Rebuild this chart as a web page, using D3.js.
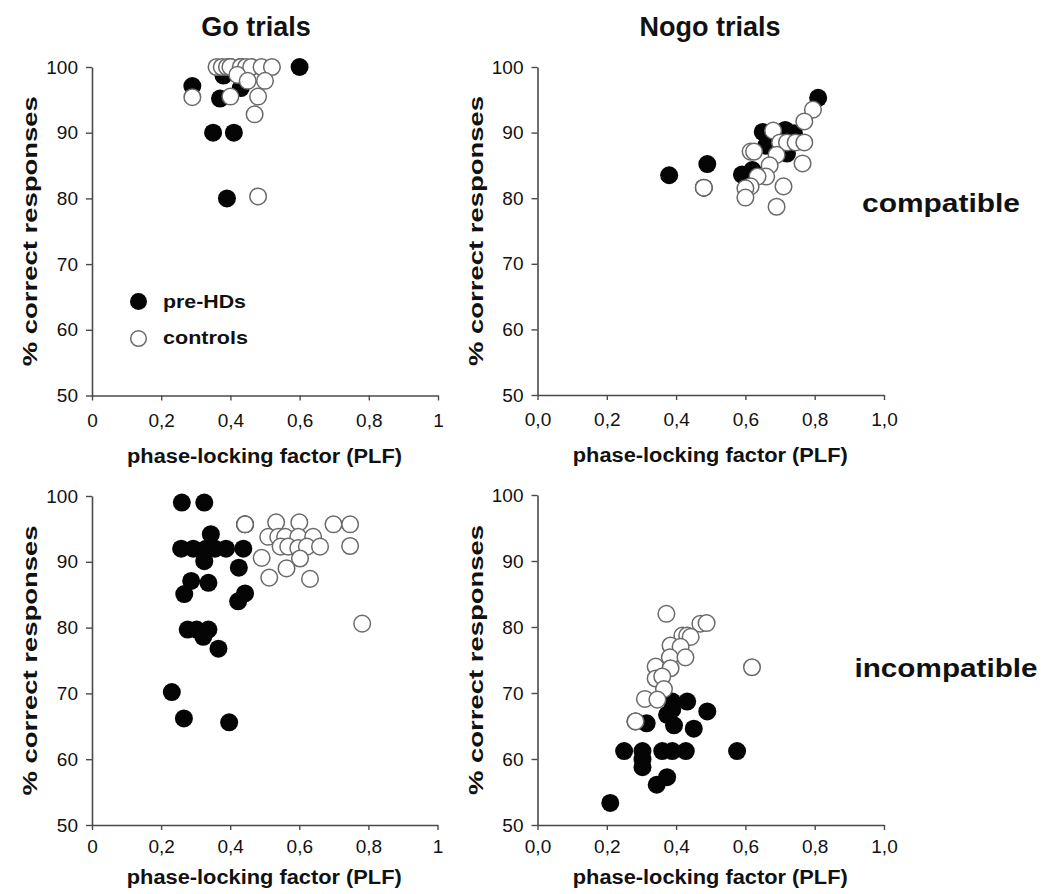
<!DOCTYPE html>
<html><head><meta charset="utf-8">
<script src="https://cdn.jsdelivr.net/npm/d3@7"></script>
<style>
html,body{margin:0;padding:0;background:#fff;}
text{font-family:"Liberation Sans",Arial,Helvetica,sans-serif;fill:#111;}
</style></head>
<body>
<svg id="chart" width="1042" height="894"></svg>
<script>
// ---------- data ----------
const xTicksA = [0, 0.2, 0.4, 0.6, 0.8, 1];
const xTickLabelsA = ["0", "0,2", "0,4", "0,6", "0,8", "1"];
const xTickLabelsB = ["0,0", "0,2", "0,4", "0,6", "0,8", "1,0"];
const yTicks = [50, 60, 70, 80, 90, 100];

// Go trials, compatible
const goCompPre = [[0.60,100],[0.29,97.1],[0.38,98.7],[0.40,100],[0.43,100],[0.37,95.2],[0.43,96.8],[0.35,90],[0.41,90],[0.39,80]];
const goCompCtrl = [[0.36,100],[0.375,100],[0.39,100],[0.40,100],[0.43,100],[0.445,100],[0.46,100],[0.49,100],[0.52,100],
  [0.42,98.8],[0.45,97.9],[0.50,97.9],[0.29,95.4],[0.40,95.5],[0.48,95.5],[0.47,92.8],[0.48,80.3]];
// Nogo trials, compatible
const nogoCompPre = [[0.81,95.3],[0.38,83.5],[0.49,85.2],[0.59,83.6],[0.62,84.3],[0.65,90.1],[0.715,90.4],[0.74,89.9],[0.72,86.8],[0.66,88],[0.48,81.6]];
const nogoCompCtrl = [[0.795,93.5],[0.77,91.7],[0.68,90.3],[0.70,88.5],[0.72,88.5],[0.745,88.5],[0.77,88.5],[0.615,87.1],[0.625,87.1],
  [0.69,86.6],[0.67,85],[0.765,85.3],[0.66,83.3],[0.635,83.3],[0.615,81.8],[0.60,81.5],[0.71,81.8],[0.60,80.1],[0.69,78.7],[0.48,81.6]];
// Go trials, incompatible
const goIncPre = [[0.26,99],[0.325,99],[0.344,94.2],[0.258,92],[0.293,92],[0.33,92],[0.356,92],[0.388,92],[0.438,92],[0.325,90.1],
  [0.425,89.1],[0.287,87.1],[0.337,86.8],[0.267,85.1],[0.443,85.2],[0.423,84],[0.277,79.7],[0.303,79.7],[0.337,79.7],[0.322,78.6],
  [0.366,76.8],[0.231,70.2],[0.266,66.2],[0.397,65.6],[0.443,95.7]];
const goIncCtrl = [[0.443,95.7],[0.533,96],[0.60,96],[0.699,95.7],[0.747,95.7],[0.51,93.8],[0.539,93.8],[0.559,93.8],[0.597,93.8],
  [0.64,93.8],[0.546,92.3],[0.568,92.3],[0.597,92.1],[0.622,92.3],[0.66,92.3],[0.747,92.4],[0.491,90.6],[0.602,90.5],[0.563,89],
  [0.513,87.6],[0.631,87.4],[0.782,80.6]];
// Nogo trials, incompatible
const nogoIncPre = [[0.389,68.7],[0.432,68.7],[0.49,67.2],[0.374,66.7],[0.389,67.5],[0.315,65.4],[0.394,65.1],[0.451,64.6],[0.25,61.2],
  [0.303,61.2],[0.36,61.2],[0.389,61.2],[0.428,61.2],[0.576,61.2],[0.303,58.75],[0.303,60],[0.374,57.25],[0.344,56.1],[0.21,53.35],[0.283,65.7]];
const nogoIncCtrl = [[0.372,82],[0.47,80.5],[0.488,80.6],[0.418,78.7],[0.432,78.7],[0.442,78.5],[0.384,77.2],[0.413,77],[0.382,75.4],
  [0.427,75.4],[0.341,74],[0.384,73.75],[0.341,72.2],[0.36,72.5],[0.365,70.6],[0.31,69.1],[0.346,69],[0.619,73.9],[0.283,65.7]];

const titles = ["Go trials", "Nogo trials"];
const rowLabels = ["compatible", "incompatible"];
const legendLabels = ["pre-HDs", "controls"];
const xTitle = "phase-locking factor (PLF)";
const yTitle = "% correct responses";

// ---------- layout ----------
const svg = d3.select("#chart");
const panels = [
  {x0:92, x1:438, yt:67, yb:395.5, pre:goCompPre, ctrl:goCompCtrl, lab:xTickLabelsA, pad:13, tOff:67},
  {x0:537.5, x1:884, yt:67, yb:395, pre:nogoCompPre, ctrl:nogoCompCtrl, lab:xTickLabelsB, pad:13, tOff:67},
  {x0:92, x1:437.5, yt:496, yb:825, pre:goIncPre, ctrl:goIncCtrl, lab:xTickLabelsA, pad:10, tOff:59},
  {x0:537.5, x1:884, yt:495, yb:825, pre:nogoIncPre, ctrl:nogoIncCtrl, lab:xTickLabelsB, pad:10, tOff:59}
];
const R = 9;

panels.forEach((p) => {
  const x = d3.scaleLinear().domain([0,1]).range([p.x0, p.x1]);
  const y = d3.scaleLinear().domain([50,100]).range([p.yb, p.yt]);
  const g = svg.append("g");

  const yAx = g.append("g").attr("transform", `translate(${p.x0},0)`)
    .call(d3.axisLeft(y).tickValues(yTicks).tickSize(6).tickSizeOuter(0).tickPadding(8).tickFormat(d3.format("d")));
  const xAx = g.append("g").attr("transform", `translate(0,${p.yb})`)
    .call(d3.axisBottom(x).tickValues(xTicksA).tickSize(5).tickSizeOuter(0).tickPadding(p.pad).tickFormat((d,i)=>p.lab[i]));
  [yAx, xAx].forEach(a => {
    a.selectAll("path.domain").attr("stroke", "#4a4a4a").attr("stroke-width", 1.6);
    a.selectAll(".tick line").attr("stroke", "#4a4a4a").attr("stroke-width", 1.4);
    a.selectAll(".tick text").style("font-size", "19px").style("font-family", '"Liberation Sans",Arial,sans-serif').attr("fill", "#111");
  });

  // x title
  g.append("text").attr("x", (p.x0+p.x1)/2 - 0.5).attr("y", p.yb + p.tOff)
    .attr("text-anchor","middle").style("font-size","19.5px").style("font-weight","bold")
    .attr("textLength", 275).attr("lengthAdjust","spacingAndGlyphs").text(xTitle);
  // y title
  const cy = (p.yt+p.yb)/2;
  g.append("text").attr("transform", `translate(${p.x0-55},${cy}) rotate(-90)`)
    .attr("text-anchor","middle").style("font-size","19.5px").style("font-weight","bold")
    .attr("textLength", 270).attr("lengthAdjust","spacingAndGlyphs").text(yTitle);

  // controls drawn after pre-HDs (on top)
  g.append("g").selectAll("circle").data(p.pre).join("circle")
    .attr("cx", d=>x(d[0])).attr("cy", d=>y(d[1])).attr("r", R).attr("fill", "#050505");
  g.append("g").selectAll("circle").data(p.ctrl).join("circle")
    .attr("cx", d=>x(d[0])).attr("cy", d=>y(d[1])).attr("r", R-0.7)
    .attr("fill", "#fff").attr("stroke", "#6a6a6a").attr("stroke-width", 1.5);
});

// column titles
svg.append("text").attr("x", 256).attr("y", 36).attr("text-anchor","middle")
  .style("font-size","27px").style("font-weight","bold").text(titles[0]);
svg.append("text").attr("x", 710).attr("y", 36).attr("text-anchor","middle")
  .style("font-size","27px").style("font-weight","bold").text(titles[1]);
// row labels
svg.append("text").attr("x", 941).attr("y", 212).attr("text-anchor","middle")
  .style("font-size","25px").style("font-weight","bold")
  .attr("textLength",158).attr("lengthAdjust","spacingAndGlyphs").text(rowLabels[0]);
svg.append("text").attr("x", 946).attr("y", 677).attr("text-anchor","middle")
  .style("font-size","25px").style("font-weight","bold")
  .attr("textLength",183).attr("lengthAdjust","spacingAndGlyphs").text(rowLabels[1]);

// legend
const leg = svg.append("g");
leg.append("circle").attr("cx",138.5).attr("cy",301.5).attr("r",8.5).attr("fill","#050505");
leg.append("circle").attr("cx",138.5).attr("cy",338.5).attr("r",7.8).attr("fill","#fff").attr("stroke","#6a6a6a").attr("stroke-width",1.5);
leg.append("text").attr("x",163).attr("y",308).style("font-size","18.5px").style("font-weight","bold")
  .attr("textLength",83).attr("lengthAdjust","spacingAndGlyphs").text(legendLabels[0]);
leg.append("text").attr("x",163).attr("y",344).style("font-size","18.5px").style("font-weight","bold")
  .attr("textLength",85).attr("lengthAdjust","spacingAndGlyphs").text(legendLabels[1]);
</script>
</body></html>
